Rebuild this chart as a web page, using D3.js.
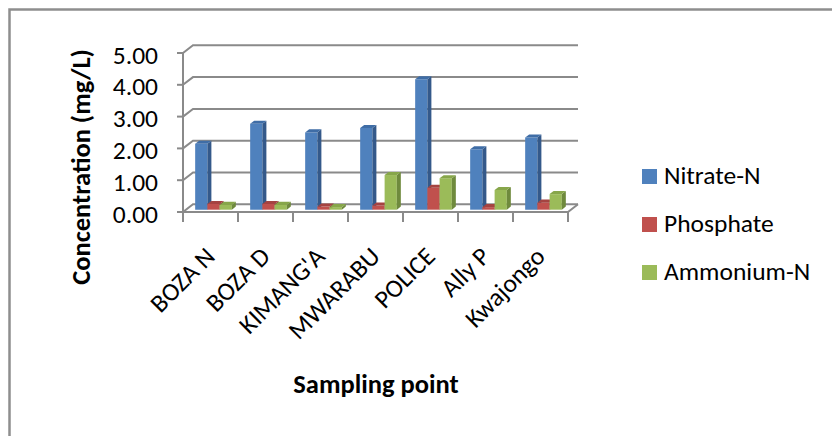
<!DOCTYPE html>
<html>
<head>
<meta charset="utf-8">
<script src="https://cdn.jsdelivr.net/npm/d3@7"></script>
<style>
  html, body { margin: 0; padding: 0; background: #fff; }
  svg { display: block; font-family: Carlito, Calibri, Lato, sans-serif; }
</style>
</head>
<body>
<svg id="chart" width="832" height="436"></svg>
<script>
// Sampling sites and measured concentrations (mg/L)
const categories = ["BOZA N", "BOZA D", "KIMANG'A", "MWARABU", "POLICE", "Ally P", "Kwajongo"];
const seriesNames = ["Nitrate-N", "Phosphate", "Ammonium-N"];
const nitrate   = [2.07, 2.70, 2.43, 2.57, 4.10, 1.90, 2.27];
const phosphate = [0.18, 0.18, 0.10, 0.13, 0.69, 0.08, 0.22];
const ammonium  = [0.15, 0.15, 0.08, 1.09, 0.99, 0.62, 0.49];
const yTicks = [0, 1, 2, 3, 4, 5];

const seriesValues = [nitrate, phosphate, ammonium];
const faceColors = [
  { front: "#4F81BD", side: "#34598A", top: "#3F6DA6" },
  { front: "#C0504D", side: "#8C3836", top: "#A54341" },
  { front: "#9BBB59", side: "#6F8A3D", top: "#87A64A" }
];

const svg = d3.select("#chart");

// Outer chart frame (left and top edges)
svg.append("path")
  .attr("d", "M9.5,436 L9.5,9.5 L832,9.5")
  .attr("fill", "none").attr("stroke", "#8E8E8E").attr("stroke-width", 2.5);

// Plot geometry: front plane plus an oblique depth offset
const plotLeft = 183, plotRight = 568;
const DX = 10, DY = -7.7;
const x = d3.scaleBand().domain(categories).range([plotLeft, plotRight]);
const xs = d3.scaleBand().domain(seriesNames).range([0, x.bandwidth()])
  .paddingInner(0).paddingOuter(0.75);
const y = d3.scaleLinear().domain([0, 5]).range([212, 53]);
const P = (px, py, z) => [px + z * DX, py + z * DY];

const gridColor = "#8A8A8A";
const grid = svg.append("g").attr("stroke", gridColor).attr("stroke-width", 2).attr("fill", "none");

// Back wall gridlines and their continuation across the side wall
yTicks.forEach(v => {
  const a = P(plotLeft, y(v), 0), b = P(plotLeft, y(v), 1), c = P(plotRight, y(v), 1);
  grid.append("path").attr("d", `M${a}L${b}L${c}`);
});
// Vertical axis line on the front edge with tick marks
grid.append("line").attr("x1", plotLeft).attr("x2", plotLeft).attr("y1", y(5)).attr("y2", y(0));
yTicks.forEach(v => {
  grid.append("line").attr("x1", plotLeft - 6).attr("x2", plotLeft).attr("y1", y(v)).attr("y2", y(v));
});
// Floor front edge, right edge and category ticks
{
  const r0 = P(plotRight, y(0), 0), r1 = P(plotRight, y(0), 1);
  grid.append("path").attr("d", `M${plotLeft},${y(0)}L${r0}L${r1}`);
  const edges = categories.map(c => x(c)).concat([plotRight]);
  edges.forEach(ex => {
    grid.append("line").attr("x1", ex).attr("x2", ex).attr("y1", y(0)).attr("y2", y(0) + 10);
  });
}

// 3D columns: each bar occupies the middle 40% of the floor depth
const z0 = 0.3, z1 = 0.7;
const bars = svg.append("g");
categories.forEach((cat, i) => {
  seriesNames.forEach((s, k) => {
    const v = seriesValues[k][i];
    const xl = x(cat) + xs(s), xr = xl + xs.bandwidth();
    const yt = y(v), yb = y(0);
    const col = faceColors[k];
    const poly = pts => "M" + pts.map(p => p.join(",")).join("L") + "Z";
    // front face
    bars.append("path").attr("fill", col.front)
      .attr("d", poly([P(xl, yt, z0), P(xr, yt, z0), P(xr, yb, z0), P(xl, yb, z0)]));
    // right side face
    bars.append("path").attr("fill", col.side)
      .attr("d", poly([P(xr, yt, z0), P(xr, yt, z1), P(xr, yb, z1), P(xr, yb, z0)]));
    // top face
    bars.append("path").attr("fill", col.top)
      .attr("d", poly([P(xl, yt, z0), P(xr, yt, z0), P(xr, yt, z1), P(xl, yt, z1)]));
  });
});

// Y tick labels
svg.append("g").selectAll("text").data(yTicks).join("text")
  .attr("x", 158).attr("y", d => y(d) + 2)
  .attr("text-anchor", "end").attr("dominant-baseline", "central")
  .attr("font-size", 25.5).attr("fill", "#000")
  .text(d => d.toFixed(2));

// Category labels, rotated
svg.append("g").selectAll("text").data(categories).join("text")
  .attr("transform", d => `translate(${x(d) + x.bandwidth() / 2 + 6},258) rotate(-45)`)
  .attr("text-anchor", "end")
  .attr("font-size", 25.5).attr("fill", "#000")
  .text(d => d);

// Axis titles
svg.append("text")
  .attr("transform", "translate(90,167) rotate(-90)")
  .attr("text-anchor", "middle").attr("font-weight", "bold")
  .attr("font-size", 26.5).attr("fill", "#000")
  .text("Concentration (mg/L)");
svg.append("text")
  .attr("x", 376).attr("y", 393)
  .attr("text-anchor", "middle").attr("font-weight", "bold")
  .attr("font-size", 26.5).attr("fill", "#000")
  .text("Sampling point");

// Legend
const legendY = [184, 232, 280];
const legend = svg.append("g");
seriesNames.forEach((s, k) => {
  legend.append("rect").attr("x", 642).attr("y", legendY[k] - 15)
    .attr("width", 15).attr("height", 15).attr("fill", faceColors[k].front);
  legend.append("text").attr("x", 664).attr("y", legendY[k])
    .attr("font-size", 25.5).attr("fill", "#000").text(s);
});
</script>
</body>
</html>
